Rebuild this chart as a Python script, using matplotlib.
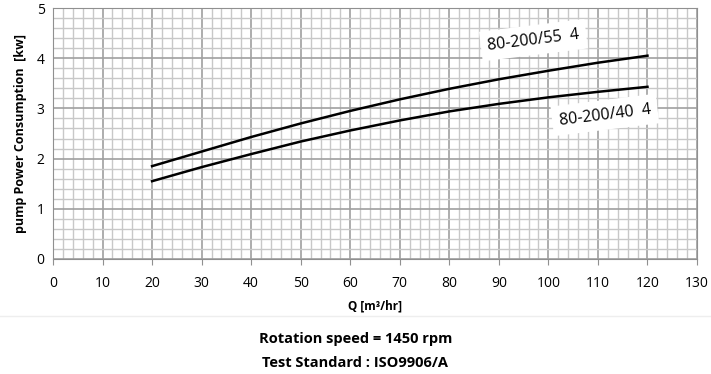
import numpy as np
import matplotlib.pyplot as plt
from matplotlib.ticker import MultipleLocator

plt.rcParams['font.family'] = ['Open Sans', 'DejaVu Sans']

# flow Q [m3/hr] and power [kW]
q = [20, 30, 40, 50, 60, 70, 80, 90, 100, 110, 120]
p_55 = [1.85, 2.14, 2.43, 2.70, 2.95, 3.18, 3.39, 3.58, 3.75, 3.91, 4.05]
p_40 = [1.55, 1.83, 2.09, 2.34, 2.56, 2.76, 2.94, 3.09, 3.22, 3.33, 3.43]
x_ticks = list(range(0, 131, 10))
y_ticks = [0, 1, 2, 3, 4, 5]

fig = plt.figure(figsize=(7.11, 3.74), dpi=100)
ax = fig.add_axes([53/711, 1-259/374, 644/711, 251/374])

ax.plot(q, p_55, color='black', lw=1.8, zorder=3)
ax.plot(q, p_40, color='black', lw=1.8, zorder=3)

ax.set_xlim(0, 130)
ax.set_ylim(0, 5)
ax.set_xticks(x_ticks)
ax.set_yticks(y_ticks)
ax.xaxis.set_minor_locator(MultipleLocator(2))
ax.yaxis.set_minor_locator(MultipleLocator(0.2))
ax.grid(which='major', color='#a0a0a0', lw=1.2)
ax.grid(which='minor', color='#c8c8c8', lw=1.0)
ax.set_axisbelow(True)
for s in ax.spines.values():
    s.set_color('#909090')
ax.tick_params(which='minor', length=0)
ax.tick_params(axis='y', length=0, labelsize=10, pad=6)
ax.tick_params(axis='x', length=4, color='#909090', labelsize=10, pad=8)

ax.set_xlabel('Q [m³/hr]', fontsize=8.5, fontweight='bold', labelpad=6)
ax.set_ylabel('pump Power Consumption  [kw]', fontsize=9, fontweight='bold', labelpad=7)

box = dict(facecolor='white', edgecolor='none', pad=5)
ax.text(97, 4.36, '80-200/55  4', fontsize=11.5, rotation=7, ha='center', va='center', bbox=box, zorder=4)
ax.text(111.4, 2.87, '80-200/40  4', fontsize=11.5, rotation=7, ha='center', va='center', bbox=box, zorder=4)

fig.add_artist(plt.Line2D([0, 1], [1-316/374, 1-316/374], color='#eeeeee', lw=1))
fig.text(0.5, 1-339/374, 'Rotation speed = 1450 rpm', ha='center', va='center', fontsize=10.5, fontweight='bold')
fig.text(0.5, 1-363/374, 'Test Standard : ISO9906/A', ha='center', va='center', fontsize=10.5, fontweight='bold')

fig.savefig('out.png', dpi=100)
